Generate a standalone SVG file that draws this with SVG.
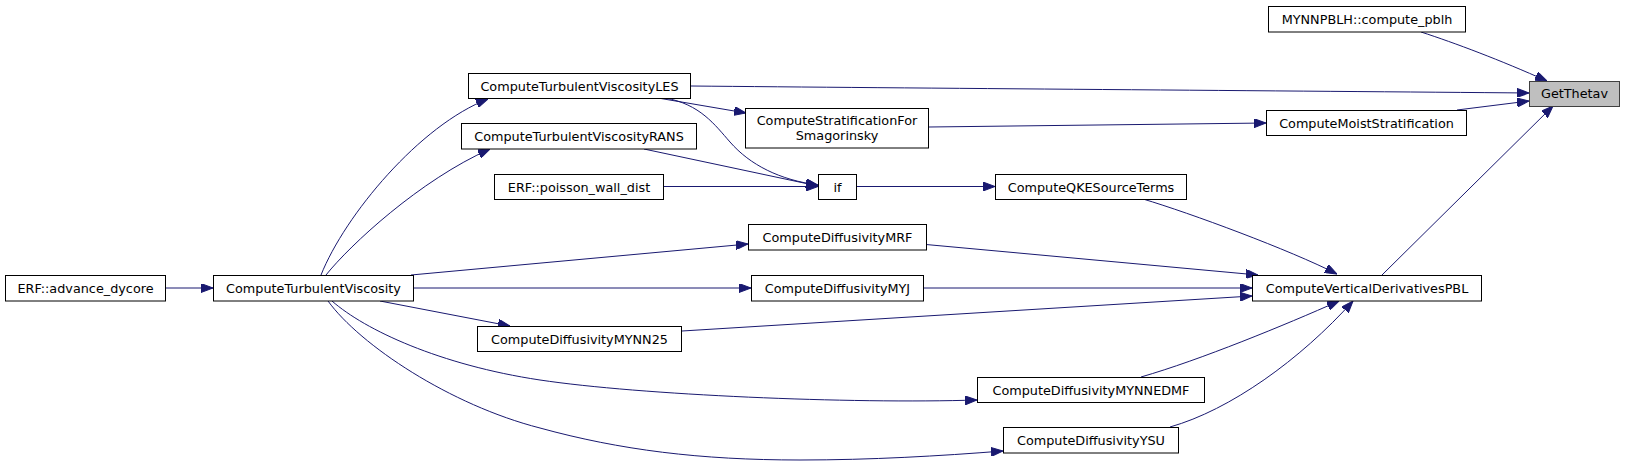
<svg xmlns="http://www.w3.org/2000/svg" width="1625" height="466" viewBox="0 0 1625 466">
<style>
.n rect{fill:#ffffff;stroke:#000000;stroke-width:1}
.n.cur rect{fill:#bfbfbf;stroke:#404040}
.n text{font-family:"DejaVu Sans",sans-serif;font-size:12.8px;fill:#000000;text-anchor:middle}
#edges path{fill:none;stroke:#191970;stroke-width:1;marker-end:url(#ah)}
</style>
<defs>
<marker id="ah" viewBox="0 0 12 9" refX="12" refY="4.5" markerWidth="12" markerHeight="9" markerUnits="userSpaceOnUse" orient="auto">
<path d="M0,0 L12,4.5 L0,9 z" fill="#191970" stroke="#191970" stroke-width="1"/>
</marker>
</defs>
<rect width="1625" height="466" fill="#ffffff"/>
<g id="edges">
<path d="M1421,32 C1455,43 1500,60 1547,81"/>
<path d="M691,86 C900,88 1300,91 1529,93"/>
<path d="M1457,110 L1529,101"/>
<path d="M1382,275 L1553,106"/>
<path d="M929,127 L1266,123"/>
<path d="M658,98 L746,113"/>
<path d="M665,98 C700,104 715,125 730,142 C750,165 780,180 818,185"/>
<path d="M644,149 L818,186"/>
<path d="M664,186.5 L818,186.5"/>
<path d="M856,186.5 L995,186.5"/>
<path d="M1143,199 C1190,213 1290,250 1337,274"/>
<path d="M926,244.5 L1258,275"/>
<path d="M923,288 L1252,288"/>
<path d="M682,331 L1252,296"/>
<path d="M1141,377 C1200,360 1285,325 1339,301"/>
<path d="M1170,427 C1230,410 1300,360 1353,301"/>
<path d="M165,288 L213,288"/>
<path d="M321,275 C345,215 420,125 488,99"/>
<path d="M326,275 C350,245 420,180 490,149"/>
<path d="M411,275 L748,244"/>
<path d="M413,288 L751,288"/>
<path d="M380,301 L510,326"/>
<path d="M332,301 C365,330 440,365 540,380 C640,395 850,404 977,400"/>
<path d="M328,301 C360,345 450,405 540,428 C620,450 700,460 800,460 C870,460 940,456 1003,451"/>
</g>
<g id="n_getthetav" class="n cur"><rect x="1529.5" y="81.5" width="90" height="25"/><text x="1574.5" y="98">GetThetav</text></g>
<g id="n_mynnpblh" class="n"><rect x="1268.5" y="6.5" width="197" height="25.5"/><text x="1367" y="23.5">MYNNPBLH::compute_pblh</text></g>
<g id="n_cms" class="n"><rect x="1266.5" y="110.5" width="200" height="25"/><text x="1366.5" y="127.5">ComputeMoistStratification</text></g>
<g id="n_les" class="n"><rect x="468.5" y="73.5" width="222" height="25"/><text x="579.5" y="90.5">ComputeTurbulentViscosityLES</text></g>
<g id="n_csfs" class="n"><rect x="745.5" y="108.5" width="183" height="39.5"/><text x="837" y="124.5">ComputeStratificationFor</text><text x="837" y="139.5">Smagorinsky</text></g>
<g id="n_rans" class="n"><rect x="461.5" y="123.5" width="235" height="25.5"/><text x="579" y="140.5">ComputeTurbulentViscosityRANS</text></g>
<g id="n_if" class="n"><rect x="818.5" y="174.5" width="38" height="25"/><text x="837.5" y="191.5">if</text></g>
<g id="n_poisson" class="n"><rect x="494.5" y="174.5" width="169" height="25"/><text x="579" y="191.5">ERF::poisson_wall_dist</text></g>
<g id="n_cqke" class="n"><rect x="995.5" y="174.5" width="191" height="25"/><text x="1091" y="191.5">ComputeQKESourceTerms</text></g>
<g id="n_cdmrf" class="n"><rect x="748.5" y="224.5" width="178" height="25.5"/><text x="837.5" y="241.5">ComputeDiffusivityMRF</text></g>
<g id="n_cdmyj" class="n"><rect x="751.5" y="275.5" width="172" height="25.5"/><text x="837.5" y="292.5">ComputeDiffusivityMYJ</text></g>
<g id="n_cvdpbl" class="n"><rect x="1252.5" y="275.5" width="229" height="25.5"/><text x="1367" y="292.5">ComputeVerticalDerivativesPBL</text></g>
<g id="n_ctv" class="n"><rect x="213.5" y="275.5" width="200" height="25.5"/><text x="313.5" y="292.5">ComputeTurbulentViscosity</text></g>
<g id="n_adv" class="n"><rect x="5.5" y="275.5" width="160" height="25.5"/><text x="85.5" y="292.5">ERF::advance_dycore</text></g>
<g id="n_mynn25" class="n"><rect x="477.5" y="326.5" width="204" height="25"/><text x="579.5" y="343.5">ComputeDiffusivityMYNN25</text></g>
<g id="n_edmf" class="n"><rect x="977.5" y="377.5" width="227" height="25"/><text x="1091" y="394.5">ComputeDiffusivityMYNNEDMF</text></g>
<g id="n_ysu" class="n"><rect x="1003.5" y="427.5" width="175" height="25.5"/><text x="1091" y="444.5">ComputeDiffusivityYSU</text></g>
</svg>
